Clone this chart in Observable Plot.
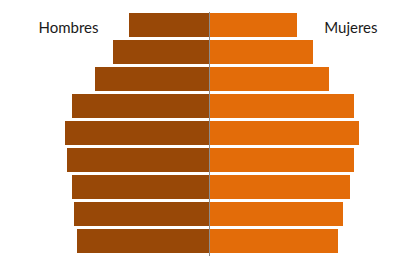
<!DOCTYPE html>
<html>
<head>
<meta charset="utf-8">
<script src="https://cdn.jsdelivr.net/npm/d3@7"></script>
<script src="https://cdn.jsdelivr.net/npm/@observablehq/plot@0.6"></script>
<style>
  html, body { margin: 0; padding: 0; background: #fff; }
  #chart { width: 400px; height: 270px; }
</style>
</head>
<body>
<div id="chart"></div>
<script>
// Age groups, top (oldest) to bottom (youngest)
const groups = ["g9", "g8", "g7", "g6", "g5", "g4", "g3", "g2", "g1"];
const hombres = [80, 96, 114, 137, 144, 142, 137, 135, 132];
const mujeres = [88, 104, 120, 145, 150, 145, 141, 134, 129];
const seriesLabels = ["Hombres", "Mujeres"];

const rows = [];
groups.forEach((g, i) => {
  rows.push({group: g, sex: seriesLabels[0], value: -hombres[i]});
  rows.push({group: g, sex: seriesLabels[1], value: mujeres[i]});
});

const chart = Plot.plot({
  width: 400,
  height: 270,
  marginTop: 12,
  marginBottom: 15.5,
  marginLeft: 0,
  marginRight: 0,
  style: {background: "#fff", fontFamily: "Lato, sans-serif"},
  x: {domain: [-209, 191], axis: null},
  y: {domain: groups, axis: null, paddingInner: 0.1, paddingOuter: 0},
  color: {domain: seriesLabels, range: ["#984807", "#E36C09"]},
  marks: [
    Plot.barX(rows, {x: "value", y: "group", fill: "sex"}),
    Plot.ruleX([0], {stroke: "#8c8c8c", strokeWidth: 1, insetBottom: -1.5}),
    Plot.text([seriesLabels[0]], {frameAnchor: "top-left", text: d => d, textAnchor: "start", dx: 38, dy: 10, fontSize: 15, fill: "#1a1a1a"}),
    Plot.text([seriesLabels[1]], {frameAnchor: "top-right", text: d => d, textAnchor: "end", dx: -23, dy: 10, fontSize: 15, fill: "#1a1a1a"})
  ]
});
document.getElementById("chart").appendChild(chart);
</script>
</body>
</html>
